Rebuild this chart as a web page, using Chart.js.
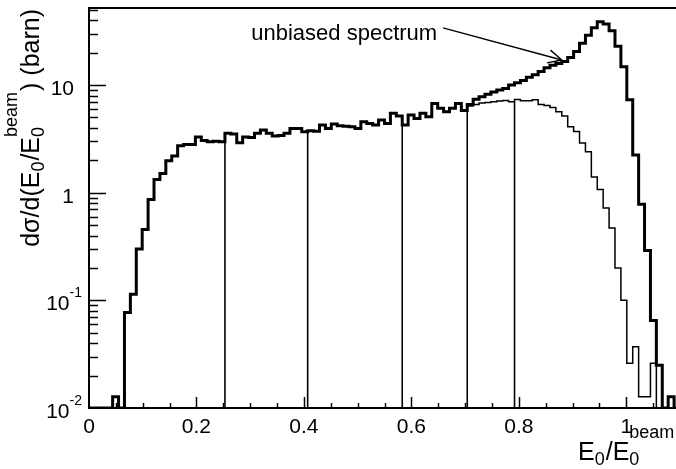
<!DOCTYPE html>
<html>
<head>
<meta charset="utf-8">
<title>Unbiased and biased photon spectrum</title>
<script src="https://cdn.jsdelivr.net/npm/chart.js@4.4.1/dist/chart.umd.min.js"></script>
<style>
html, body { margin:0; padding:0; background:#ffffff; overflow:hidden; }
#wrap { position:absolute; left:0; top:0; width:682px; height:469px; }
canvas { display:block; }
</style>
</head>
<body>
<div id="wrap"><canvas id="chart" width="682" height="469"></canvas></div>
<script>
// ---------------- data ----------------
const X_MIN = 0, X_MAX = 1.1, N_BINS = 100;
const Y_MIN = 0.01, Y_MAX = 52;

// thick histogram: unbiased spectrum (barn), one value per bin
const unbiased = [
  0, 0, 0, 0, 0.0127, 0, 0.077, 0.114, 0.30, 0.456,
  0.867, 1.33, 1.51, 1.98, 2.19, 2.73, 2.80, 2.80, 3.30, 3.05,
  2.97, 3.00, 2.97, 3.56, 3.52, 2.91, 3.30, 3.25, 3.56, 3.82,
  3.56, 3.36, 3.40, 3.56, 3.96, 3.96, 3.68, 3.76, 3.72, 4.25,
  3.96, 4.34, 4.20, 4.15, 4.10, 3.96, 4.56, 4.40, 4.25, 4.73,
  4.40, 5.46, 5.15, 4.25, 5.26, 4.90, 5.46, 5.07, 6.76, 6.08,
  5.65, 6.08, 6.76, 5.80, 6.60, 7.40, 7.80, 8.20, 8.60, 9.00,
  9.30, 10.0, 10.5, 11.0, 11.8, 12.5, 13.4, 14.5, 15.3, 15.9,
  16.6, 18.0, 20.5, 24.5, 29.0, 34.0, 38.8, 37.0, 32.0, 23.0,
  14.8, 7.30, 2.24, 0.78, 0.29, 0.065, 0.025, 0, 0.0127, 0
];

// thin histogram: biased (summed sub-range) spectrum
const biased = [
  0, 0, 0, 0, 0.0127, 0, 0.077, 0.114, 0.30, 0.456,
  0.867, 1.33, 1.51, 1.98, 2.19, 2.73, 2.80, 2.80, 3.30, 3.05,
  2.97, 3.00, 2.97, 3.56, 3.52, 2.91, 3.30, 3.25, 3.56, 3.82,
  3.56, 3.36, 3.40, 3.56, 3.96, 3.96, 3.68, 3.76, 3.72, 4.25,
  3.96, 4.34, 4.20, 4.15, 4.10, 3.96, 4.56, 4.40, 4.25, 4.73,
  4.40, 5.46, 5.15, 4.25, 5.26, 4.90, 5.46, 5.07, 6.76, 6.08,
  5.65, 6.08, 6.76, 5.80, 6.40, 6.60, 6.80, 6.90, 7.00, 7.10,
  7.20, 7.00, 7.35, 7.15, 7.15, 7.30, 6.60, 6.45, 6.20, 5.65,
  5.15, 4.10, 3.70, 2.90, 2.40, 1.40, 1.07, 0.72, 0.47, 0.20,
  0.10, 0.026, 0.037, 0.0127, 0.0127, 0.026, 0, 0, 0, 0
];

// bin edges where the sub-range histograms of the thin spectrum start
const dividerBins = [23, 37, 53, 64, 72];

const xTickValues = [0, 0.2, 0.4, 0.6, 0.8, 1];
const xTickLabels = ['0', '0.2', '0.4', '0.6', '0.8', '1'];
const yTickValues = [0.01, 0.1, 1, 10];
const yTickBase = ['10', '10', '1', '10'];
const yTickExp = ['-2', '-1', '', ''];

const annotationText = 'unbiased spectrum';
const annotationAt = { x: 0.648, y: 26 };      // right end of text, baseline (data units)
const arrowTail = { x: 0.659, y: 34 };
const arrowTip = { x: 0.880, y: 17.1 };

// ---------------- styling ----------------
const INK = '#000000';
const FONT = "'Liberation Sans', Arial, Helvetica, sans-serif";
const TICK_FONT = 21, EXP_FONT = 14, NOTE_FONT = 22, TITLE_FONT = 25, SCRIPT_FONT = 18;

// ---------------- build datasets ----------------
const binW = (X_MAX - X_MIN) / N_BINS;
const edge = i => X_MIN + i * binW;
function stepPoints(vals) {
  const pts = vals.map((v, i) => ({ x: edge(i), y: v > 0 ? v : Y_MIN }));
  pts.push({ x: edge(vals.length), y: Y_MIN });
  return pts;
}
const lineBase = { stepped: true, pointRadius: 0, fill: false, borderColor: INK, borderJoinStyle: 'miter', borderCapStyle: 'butt' };

const datasets = [
  Object.assign({ label: 'unbiased spectrum', data: stepPoints(unbiased), borderWidth: 3 }, lineBase)
];
datasets.push(Object.assign({ label: 'biased spectrum', data: stepPoints(biased), borderWidth: 1.5 }, lineBase));
dividerBins.forEach(b => {
  const top = Math.min(biased[b - 1], biased[b]);
  datasets.push(Object.assign({}, lineBase, {
    label: 'range edge', stepped: false, borderWidth: 1.6,
    data: [{ x: edge(b), y: Y_MIN }, { x: edge(b), y: top }]
  }));
});

// ---------------- helpers for rich text ----------------
const yTitleParts = [{ t: 'dσ/d(E' }, { sub: '0' }, { t: '/E' }, { sub: '0', sup: 'beam' }, { t: ') (barn)' }];
const xTitleParts = [{ t: 'E' }, { sub: '0' }, { t: '/E' }, { sub: '0', sup: 'beam' }];
const SUB_DY = 5, SUP_DY = -22;

function richText(ctx, parts, x0, base, draw) {
  let x = x0;
  for (const p of parts) {
    if (p.t !== undefined) {
      ctx.font = TITLE_FONT + 'px ' + FONT;
      if (draw) ctx.fillText(p.t, x, base);
      x += ctx.measureText(p.t).width;
    } else {
      ctx.font = SCRIPT_FONT + 'px ' + FONT;
      let w = 0;
      if (p.sub) { if (draw) ctx.fillText(p.sub, x, base + SUB_DY); w = Math.max(w, ctx.measureText(p.sub).width); }
      if (p.sup) { if (draw) ctx.fillText(p.sup, x, base + SUP_DY); w = Math.max(w, ctx.measureText(p.sup).width); }
      x += w + 1;
    }
  }
  return x - x0;
}

const overlay = {
  id: 'overlay',
  afterDraw(chart) {
    const { ctx, chartArea: a, scales } = chart;
    const xs = scales.x, ys = scales.y;
    ctx.save();
    ctx.strokeStyle = INK;
    ctx.fillStyle = INK;
    ctx.lineCap = 'butt';

    // top frame line
    ctx.lineWidth = 2;
    ctx.beginPath(); ctx.moveTo(a.left - 1, a.top); ctx.lineTo(a.right + 1, a.top); ctx.stroke();

    // inward x ticks (every 0.05, long every 0.2)
    ctx.lineWidth = 1.5;
    for (let k = 1; k * 0.05 <= X_MAX + 1e-9; k++) {
      const px = Math.round(xs.getPixelForValue(k * 0.05)) + 0.5;
      const len = (k % 4 === 0) ? 11 : 5;
      ctx.beginPath(); ctx.moveTo(px, a.bottom); ctx.lineTo(px, a.bottom - len); ctx.stroke();
    }
    // inward y ticks (log: 1..9 per decade)
    for (let d = -2; d <= 1; d++) {
      for (let m = 1; m <= 9; m++) {
        const v = m * Math.pow(10, d);
        if (v > Y_MAX) break;
        if (v <= Y_MIN) continue;
        const py = Math.round(ys.getPixelForValue(v)) + 0.5;
        const len = m === 1 ? 17 : 9;
        ctx.beginPath(); ctx.moveTo(a.left, py); ctx.lineTo(a.left + len, py); ctx.stroke();
      }
    }

    // y tick labels with exponents
    ctx.textBaseline = 'alphabetic';
    yTickValues.forEach((v, i) => {
      const py = ys.getPixelForValue(v);
      const base = py + 10;
      ctx.textAlign = 'right';
      if (yTickExp[i]) {
        ctx.font = EXP_FONT + 'px ' + FONT;
        const ew = ctx.measureText(yTickExp[i]).width;
        ctx.fillText(yTickExp[i], 82, base - 13);
        ctx.font = TICK_FONT + 'px ' + FONT;
        ctx.fillText(yTickBase[i], 82 - ew, base);
      } else {
        ctx.font = TICK_FONT + 'px ' + FONT;
        ctx.fillText(yTickBase[i], 74, base);
      }
    });

    // annotation
    ctx.font = NOTE_FONT + 'px ' + FONT;
    ctx.textAlign = 'right';
    ctx.fillText(annotationText, xs.getPixelForValue(annotationAt.x), ys.getPixelForValue(annotationAt.y));
    const tx = xs.getPixelForValue(arrowTail.x), ty = ys.getPixelForValue(arrowTail.y);
    const hx = xs.getPixelForValue(arrowTip.x), hy = ys.getPixelForValue(arrowTip.y);
    ctx.lineWidth = 1.4;
    ctx.beginPath(); ctx.moveTo(tx, ty); ctx.lineTo(hx, hy); ctx.stroke();
    const ang = Math.atan2(hy - ty, hx - tx), hl = 15, ha = 26 * Math.PI / 180;
    ctx.beginPath();
    ctx.moveTo(hx - hl * Math.cos(ang - ha), hy - hl * Math.sin(ang - ha));
    ctx.lineTo(hx, hy);
    ctx.lineTo(hx - hl * Math.cos(ang + ha), hy - hl * Math.sin(ang + ha));
    ctx.stroke();

    // axis titles
    ctx.textAlign = 'left';
    richText(ctx, xTitleParts, a.left + 489, 460, true);

    const wy = richText(ctx, yTitleParts, 0, 0, false);
    ctx.translate(39, a.top + 1 + wy);
    ctx.rotate(-Math.PI / 2);
    richText(ctx, yTitleParts, 0, 0, true);
    ctx.restore();
  }
};

Chart.defaults.font.family = FONT;
Chart.defaults.color = INK;

new Chart(document.getElementById('chart'), {
  type: 'line',
  data: { datasets },
  options: {
    responsive: false,
    devicePixelRatio: 1,
    animation: false,
    events: [],
    layout: { padding: { left: 0, right: 2, top: 8, bottom: 0 } },
    plugins: { legend: { display: false }, tooltip: { enabled: false }, title: { display: false } },
    scales: {
      x: {
        type: 'linear', min: X_MIN, max: X_MAX,
        afterBuildTicks: s => { s.ticks = xTickValues.map(v => ({ value: v })); },
        afterFit: s => { s.height = 61; },
        grid: { display: false, drawTicks: false },
        border: { display: true, color: INK, width: 2 },
        ticks: {
          padding: 7, color: INK, maxRotation: 0, autoSkip: false,
          font: { size: TICK_FONT, family: FONT },
          callback: (v, i) => xTickLabels[i]
        }
      },
      y: {
        type: 'logarithmic', min: Y_MIN, max: Y_MAX,
        afterFit: s => { s.width = 89; },
        grid: { display: false, drawTicks: false },
        border: { display: true, color: INK, width: 2 },
        ticks: { display: false }
      }
    }
  },
  plugins: [overlay]
});
</script>
</body>
</html>
